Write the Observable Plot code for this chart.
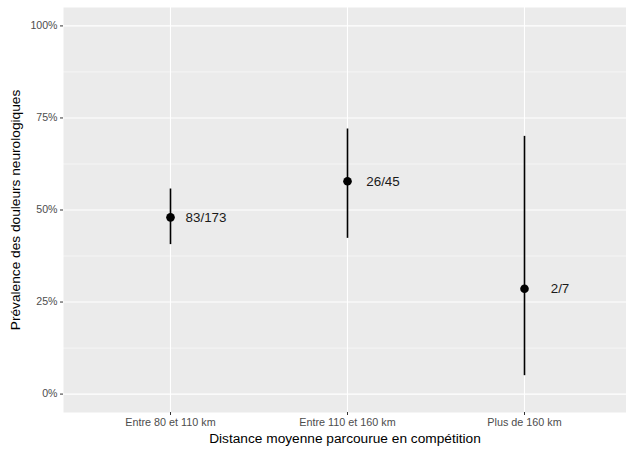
<!DOCTYPE html>
<html>
<head>
<meta charset="utf-8">
<script src="https://cdn.jsdelivr.net/npm/d3@7"></script>
<script src="https://cdn.jsdelivr.net/npm/@observablehq/plot@0.6"></script>
<style>
  html, body { margin: 0; padding: 0; background: #fff; }
  #chart svg { display: block; }
</style>
</head>
<body>
<div id="chart"></div>
<script>
const categories = ["Entre 80 et 110 km", "Entre 110 et 160 km", "Plus de 160 km"];
const prevalence = [0.480, 0.578, 0.286];
const lower = [0.406, 0.423, 0.050];
const upper = [0.557, 0.720, 0.700];
const labels = ["83/173", "26/45", "2/7"];
const yBreaks = [0, 0.25, 0.5, 0.75, 1];
const yMinorBreaks = [0.125, 0.375, 0.625, 0.875];
const xTitle = "Distance moyenne parcourue en compétition";
const yTitle = "Prévalence des douleurs neurologiques";

const data = categories.map((c, i) => ({
  cat: c, p: prevalence[i], lo: lower[i], hi: upper[i], label: labels[i]
}));

const chart = Plot.plot({
  width: 626,
  height: 450,
  marginLeft: 63,
  marginRight: 0,
  marginTop: 7,
  marginBottom: 38,
  style: { fontFamily: "Liberation Sans, Arial, Helvetica, sans-serif", background: "#fff" },
  x: { type: "point", domain: categories, padding: 0.584, align: 0.513 },
  y: { domain: [-0.05, 1.05] },
  marks: [
    Plot.frame({ fill: "#EBEBEB", stroke: null }),
    Plot.gridY(yMinorBreaks, { stroke: "#fff", strokeOpacity: 1, strokeWidth: 0.55 }),
    Plot.gridY(yBreaks, { stroke: "#fff", strokeOpacity: 1, strokeWidth: 1.1 }),
    Plot.gridX(categories, { stroke: "#fff", strokeOpacity: 1, strokeWidth: 1.1 }),
    Plot.axisY(yBreaks, { tickFormat: d3.format(".0%"), tickSize: 3, tickPadding: 3, fontSize: 10.6, stroke: "#333", fill: "#4D4D4D", label: null }),
    Plot.axisX(categories, { tickSize: 3, tickPadding: 3, fontSize: 10.8, stroke: "#333", fill: "#4D4D4D", label: null }),
    Plot.ruleX(data, { x: "cat", y1: "lo", y2: "hi", stroke: "#000", strokeWidth: 1.6 }),
    Plot.dot(data, { x: "cat", y: "p", r: 4.3, fill: "#000", stroke: null }),
    Plot.text(data, { x: "cat", y: "p", text: "label", dx: 35.5, textAnchor: "middle", fontSize: 13.4, fill: "#1a1a1a" }),
    Plot.text([xTitle], { frameAnchor: "bottom", dy: 26, textAnchor: "middle", lineAnchor: "middle", fontSize: 13.7, fill: "#000" }),
    Plot.text([yTitle], { frameAnchor: "left", dx: -48, rotate: -90, textAnchor: "middle", lineAnchor: "middle", fontSize: 13.7, fill: "#000" })
  ]
});
document.getElementById("chart").appendChild(chart);
</script>
</body>
</html>
